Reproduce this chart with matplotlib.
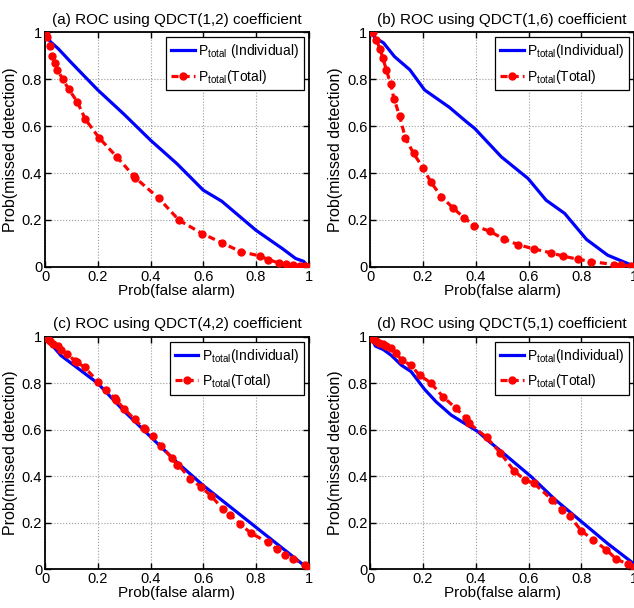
import matplotlib
matplotlib.use("Agg")
import matplotlib.pyplot as plt

plt.rcParams['font.family'] = ['Liberation Sans', 'DejaVu Sans']
plt.rcParams['mathtext.fontset'] = 'custom'
plt.rcParams['mathtext.rm'] = 'Liberation Sans'
plt.rcParams['mathtext.it'] = 'Liberation Sans'

titles = ["(a) ROC using QDCT(1,2) coefficient",
          "(b) ROC using QDCT(1,6) coefficient",
          "(c) ROC using QDCT(4,2) coefficient",
          "(d) ROC using QDCT(5,1) coefficient"]

# Panel (a)
a_ind_x = [0, 0.02, 0.05, 0.1, 0.2, 0.3, 0.4, 0.5, 0.6, 0.67, 0.8, 0.9, 0.95, 0.98, 1.0]
a_ind_y = [1, 0.96, 0.93, 0.87, 0.754, 0.65, 0.54, 0.44, 0.327, 0.28, 0.156, 0.078, 0.036, 0.024, 0.0]
a_tot_x = [0, 0.005, 0.009, 0.019, 0.028, 0.038, 0.047, 0.067, 0.09, 0.122, 0.153, 0.205, 0.272,
           0.336, 0.342, 0.431, 0.508, 0.596, 0.672, 0.742, 0.814, 0.847, 0.889, 0.914, 0.94, 0.965, 0.984, 1.0]
a_tot_y = [1, 0.99, 0.98, 0.94, 0.90, 0.87, 0.84, 0.80, 0.757, 0.704, 0.629, 0.55, 0.469,
           0.388, 0.38, 0.293, 0.199, 0.142, 0.102, 0.065, 0.047, 0.031, 0.016, 0.012, 0.008, 0.006, 0.004, 0.0]

# Panel (b)
b_ind_x = [0, 0.02, 0.05, 0.092, 0.15, 0.206, 0.3, 0.364, 0.396, 0.497, 0.598, 0.667, 0.737, 0.82, 0.9, 0.977, 1.0]
b_ind_y = [1, 0.975, 0.955, 0.896, 0.84, 0.754, 0.68, 0.619, 0.59, 0.469, 0.377, 0.284, 0.228, 0.117, 0.05, 0.014, 0.005]
b_tot_x = [0, 0.01, 0.023, 0.037, 0.048, 0.061, 0.077, 0.09, 0.111, 0.133, 0.164, 0.2, 0.229, 0.269,
           0.315, 0.355, 0.394, 0.455, 0.507, 0.56, 0.619, 0.685, 0.731, 0.786, 0.837, 0.924, 0.952, 0.99]
b_tot_y = [1, 0.999, 0.967, 0.929, 0.889, 0.84, 0.78, 0.717, 0.644, 0.55, 0.484, 0.422, 0.363, 0.30,
           0.25, 0.21, 0.176, 0.151, 0.118, 0.095, 0.077, 0.06, 0.046, 0.033, 0.023, 0.01, 0.007, 0.003]

# Panel (c)
c_ind_x = [0, 0.06, 0.2, 0.25, 0.3, 0.4, 0.5, 0.6, 0.7, 0.8, 0.9, 1.0]
c_ind_y = [1, 0.92, 0.80, 0.74, 0.68, 0.57, 0.46, 0.36, 0.27, 0.18, 0.09, 0.0]
c_tot_x = [0, 0.01, 0.02, 0.03, 0.05, 0.06, 0.085, 0.115, 0.12, 0.15, 0.2, 0.23, 0.265, 0.27, 0.3, 0.34,
           0.374, 0.38, 0.41, 0.44, 0.48, 0.5, 0.506, 0.55, 0.59, 0.63, 0.675, 0.7, 0.74, 0.78, 0.845,
           0.88, 0.91, 0.94, 0.984, 1.0]
c_tot_y = [1, 0.99, 0.98, 0.97, 0.96, 0.945, 0.925, 0.895, 0.89, 0.87, 0.807, 0.77, 0.735, 0.728, 0.69, 0.645,
           0.606, 0.605, 0.575, 0.53, 0.48, 0.45, 0.448, 0.39, 0.355, 0.315, 0.258, 0.235, 0.195, 0.155, 0.115,
           0.085, 0.06, 0.045, 0.019, 0.005]

# Panel (d)
d_ind_x = [0, 0.02, 0.05, 0.08, 0.118, 0.155, 0.206, 0.25, 0.307, 0.408, 0.45, 0.49, 0.61, 0.7, 0.8, 0.9, 0.996]
d_ind_y = [1, 0.96, 0.945, 0.92, 0.878, 0.85, 0.774, 0.72, 0.663, 0.592, 0.55, 0.513, 0.398, 0.30, 0.205, 0.11, 0.026]
d_tot_x = [0, 0.01, 0.023, 0.035, 0.048, 0.06, 0.077, 0.096, 0.12, 0.153, 0.187, 0.229, 0.276, 0.325,
           0.364, 0.373, 0.441, 0.493, 0.545, 0.585, 0.62, 0.69, 0.727, 0.756, 0.8, 0.845, 0.895, 0.933, 0.977, 1.0]
d_tot_y = [1, 0.99, 0.98, 0.975, 0.967, 0.96, 0.95, 0.93, 0.90, 0.878, 0.835, 0.802, 0.742, 0.692,
           0.649, 0.63, 0.567, 0.501, 0.423, 0.385, 0.37, 0.298, 0.255, 0.229, 0.165, 0.126, 0.083, 0.043, 0.021, 0.01]

panels = [(a_ind_x, a_ind_y, a_tot_x, a_tot_y),
          (b_ind_x, b_ind_y, b_tot_x, b_tot_y),
          (c_ind_x, c_ind_y, c_tot_x, c_tot_y),
          (d_ind_x, d_ind_y, d_tot_x, d_tot_y)]

ticks = [0, 0.2, 0.4, 0.6, 0.8, 1]
tick_labels = ["0", "0.2", "0.4", "0.6", "0.8", "1"]

leg_ind = [r"P$_{\mathregular{total}}$ (Individual)", r"P$_{\mathregular{total}}$(Individual)",
           r"P$_{\mathregular{total}}$(Individual)", r"P$_{\mathregular{total}}$(Individual)"]
leg_tot = r"P$_{\mathregular{total}}$(Total)"

fig = plt.figure(figsize=(6.34, 6.08), dpi=100)
positions = [(0.071, 0.561, 0.416, 0.386),
             (0.584, 0.561, 0.416, 0.386),
             (0.071, 0.064, 0.416, 0.382),
             (0.584, 0.064, 0.416, 0.382)]

for i, (pos, (ix, iy, tx, ty)) in enumerate(zip(positions, panels)):
    ax = fig.add_axes(pos)
    ax.plot(ix, iy, color='#0000ff', lw=2.3, solid_joinstyle='round', label=leg_ind[i], zorder=3)
    ax.plot(tx, ty, color='#ff0000', lw=2.3, linestyle='--', dashes=(2.2, 1.3),
            marker='o', markersize=5, label=leg_tot, zorder=4)
    ax.set_xlim(0, 1)
    ax.set_ylim(0, 1)
    ax.set_xticks(ticks)
    ax.set_xticklabels(tick_labels, fontsize=10.5)
    ax.set_yticks(ticks)
    ax.set_yticklabels(tick_labels, fontsize=10.5)
    ax.tick_params(direction='in', top=True, right=True, length=4, width=1, pad=2)
    ax.grid(True, linestyle=':', color='#999999', lw=0.8)
    for s in ax.spines.values():
        s.set_linewidth(1.3)
    ax.set_title(titles[i], fontsize=11, pad=6)
    ax.set_xlabel("Prob(false alarm)", fontsize=11, labelpad=0)
    ax.set_ylabel("Prob(missed detection)", fontsize=11.5, labelpad=3)
    leg = ax.legend(loc='upper right', fontsize=10, fancybox=False, framealpha=1,
                    edgecolor='black', handlelength=1.7, borderaxespad=0.35,
                    borderpad=0.35, labelspacing=0.55, handletextpad=0.25)
    leg.get_frame().set_linewidth(0.9)

fig.savefig("out.png", dpi=100)
